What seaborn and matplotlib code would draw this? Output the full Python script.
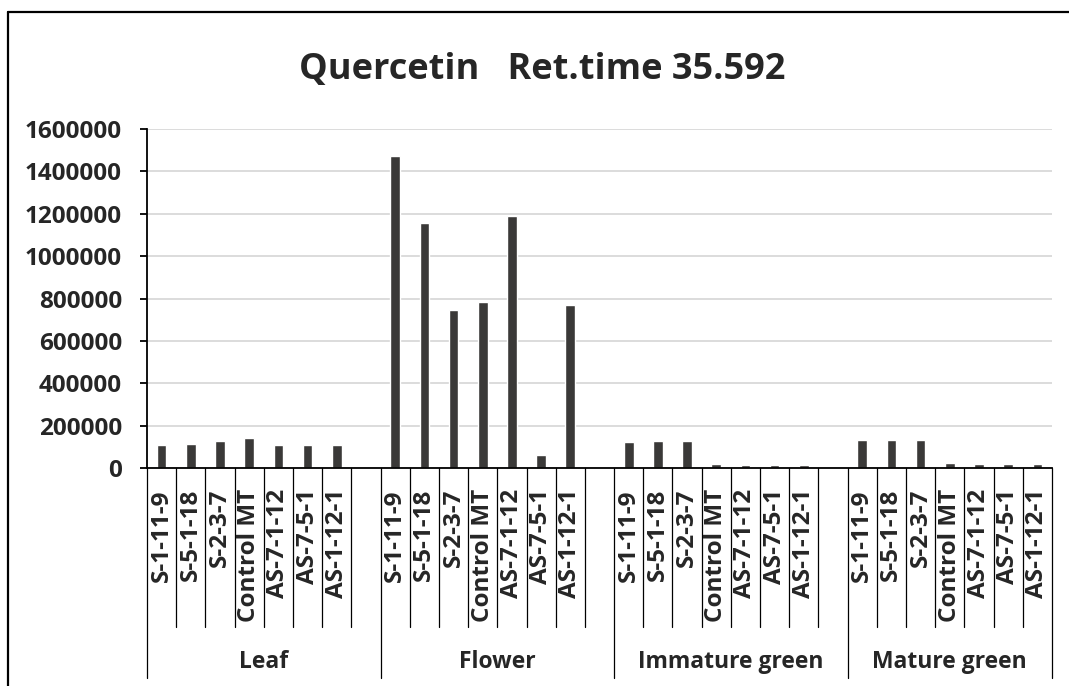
import matplotlib
matplotlib.use("Agg")
import matplotlib.pyplot as plt
import matplotlib.lines as mlines
import matplotlib.transforms as mtransforms
import pandas as pd
import seaborn as sns

# ---- data ----
groups = ["Leaf", "Flower", "Immature green", "Mature green"]
samples = ["S-1-11-9", "S-5-1-18", "S-2-3-7", "Control MT",
           "AS-7-1-12", "AS-7-5-1", "AS-1-12-1"]
leaf = [108000, 111000, 127000, 143000, 107000, 108000, 108000]
flower = [1472000, 1158000, 745000, 784000, 1188000, 59500, 767000]
immature_green = [122500, 125500, 127000, 17000, 16000, 15000, 15000]
mature_green = [133500, 133500, 133500, 25000, 19000, 19000, 20500]
values = [leaf, flower, immature_green, mature_green]
y_ticks = [0, 200000, 400000, 600000, 800000, 1000000, 1200000, 1400000, 1600000]
title = "Quercetin   Ret.time 35.592"

# ---- tidy table, with an empty slot between groups ----
rows = []
slots = []
slot_group = []
for gi, (g, vals) in enumerate(zip(groups, values)):
    for s, v in zip(samples, vals):
        key = f"{g}|{s}"
        rows.append({"slot": key, "group": g, "sample": s, "value": v})
        slots.append(key)
        slot_group.append(g)
    if gi < len(groups) - 1:
        slots.append(f"{g}|gap")
        slot_group.append(None)
df = pd.DataFrame(rows)

sns.set_theme(style="white")
plt.rcParams["font.family"] = ["Open Sans", "DejaVu Sans"]
plt.rcParams["font.weight"] = "bold"

W, H = 1069, 686
fig = plt.figure(figsize=(W / 100, H / 100), dpi=100)
ax_left, ax_right, ax_top, ax_bot = 147, 1052, 129, 468
ax = fig.add_axes([ax_left / W, 1 - ax_bot / H,
                   (ax_right - ax_left) / W, (ax_bot - ax_top) / H])

bar_color = "#3a3938"
sns.barplot(data=df, x="slot", y="value", order=slots, color=bar_color,
            width=0.33, saturation=1, ax=ax, errorbar=None)

n = len(slots)
ax.set_xlim(-0.5, n - 0.5)
ax.set_ylim(0, 1600000)
ax.set_yticks(y_ticks)
ax.set_yticklabels([str(t) for t in y_ticks], fontsize=17.5, fontweight="bold")
ax.set_xticks([])
ax.set_xlabel("")
ax.set_ylabel("")
ax.yaxis.grid(True, color="#d9d9d9", linewidth=1.3)
ax.set_axisbelow(True)
for side in ["top", "right"]:
    ax.spines[side].set_visible(False)
for side in ["left", "bottom"]:
    ax.spines[side].set_color("black")
    ax.spines[side].set_linewidth(1.3)
ax.tick_params(axis="y", direction="out", length=5, width=1.3, color="black",
               pad=13, left=True)

# ---- two-level category axis ----
trans = mtransforms.blended_transform_factory(ax.transData, ax.transAxes)
ax_h = ax_bot - ax_top
short_y = -(627 - ax_bot) / ax_h
long_y = -(678 - ax_bot) / ax_h

group_bounds = {-0.5, n - 0.5}
for i in range(1, n):
    if slot_group[i - 1] is None:
        group_bounds.add(i - 0.5)

for i in range(n + 1):
    x = i - 0.5
    y_end = long_y if x in group_bounds else short_y
    ax.add_line(mlines.Line2D([x, x], [0, y_end], transform=trans,
                              color="black", linewidth=0.9, clip_on=False))

label_top = -(489 - ax_bot) / ax_h
for i, key in enumerate(slots):
    if slot_group[i] is None:
        continue
    sample = key.split("|", 1)[1]
    ax.text(i, label_top, sample, transform=trans, rotation=90,
            ha="center", va="top", fontsize=17.5, fontweight="bold")

group_y = -(662 - ax_bot) / ax_h
for g in groups:
    idx = [i for i, sg in enumerate(slot_group) if sg == g]
    lo, hi = idx[0] - 0.5, idx[-1] + 0.5
    if hi + 1 <= n - 0.5 and slot_group[int(hi + 0.5)] is None:
        hi += 1
    ax.text((lo + hi) / 2, group_y, g, transform=trans, ha="center",
            va="center", fontsize=16.5, fontweight="bold")

# ---- title and frame ----
fig.text(542 / W, 1 - 79 / H, title, ha="center", va="baseline",
         fontsize=26, fontweight="bold")
fig.add_artist(mlines.Line2D([8 / W, 8 / W], [0, 1 - 12 / H],
                             transform=fig.transFigure, color="black", linewidth=1.6))
fig.add_artist(mlines.Line2D([8 / W, 1], [1 - 12 / H, 1 - 12 / H],
                             transform=fig.transFigure, color="black", linewidth=1.6))

fig.savefig("out.png", dpi=100)
